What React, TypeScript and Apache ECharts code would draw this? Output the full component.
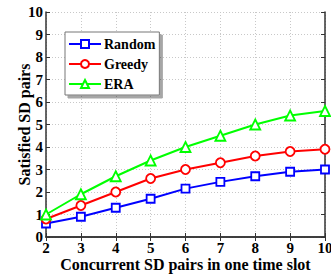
import React, { useEffect, useRef } from "react";
import * as echarts from "echarts";

const xValues = [2, 3, 4, 5, 6, 7, 8, 9, 10];
const randomVals = [0.6, 0.9, 1.3, 1.7, 2.15, 2.45, 2.7, 2.9, 3.0];
const greedyVals = [0.8, 1.4, 2.0, 2.6, 3.0, 3.3, 3.6, 3.8, 3.9];
const eraVals = [1.0, 1.9, 2.7, 3.4, 4.0, 4.5, 5.0, 5.4, 5.6];
const seriesNames = ["Random", "Greedy", "ERA"];

const FONT = "'Liberation Serif', 'Times New Roman', serif";

export default function App() {
  const ref = useRef<HTMLDivElement>(null);
  useEffect(() => {
    if (!ref.current) return;
    const chart = echarts.init(ref.current, undefined, { renderer: "svg" });
    const mk = (name: string, vals: number[], color: string, symbol: string, size: number) => ({
      name,
      type: "line",
      data: xValues.map((x, i) => [x, vals[i]]),
      symbol,
      symbolSize: size,
      showAllSymbol: true,
      lineStyle: { color, width: 2 },
      itemStyle: { color: "#ffffff", borderColor: color, borderWidth: 1.8 },
      color,
    });
    const axisLine = { show: true, lineStyle: { color: "#333", width: 1.5 } };
    chart.setOption({
      animation: false,
      grid: { left: 46, top: 12, width: 279, height: 225, containLabel: false, outerBoundsMode: "none" },
      legend: {
        orient: "vertical",
        left: 65,
        top: 32,
        data: seriesNames,
        itemWidth: 32,
        itemHeight: 10,
        itemGap: 6,
        padding: [5, 4, 4, 3],
        backgroundColor: "#ffffff",
        borderColor: "#777",
        borderWidth: 1,
        shadowColor: "rgba(0,0,0,0.35)",
        shadowBlur: 0,
        shadowOffsetX: 3,
        shadowOffsetY: 3,
        textStyle: { fontFamily: FONT, fontWeight: "bold", fontSize: 14, color: "#000", padding: [0, 0, 0, -2] },
      },
      xAxis: [
        {
          type: "value",
          min: 2,
          max: 10,
          interval: 1,
          name: "Concurrent SD pairs in one time slot",
          nameLocation: "middle",
          nameGap: 19.5,
          nameMoveOverlap: false,
          nameTextStyle: { fontFamily: FONT, fontWeight: "bold", fontSize: 16, color: "#000" },
          axisLine,
          axisTick: { show: true, inside: true, length: 4, lineStyle: { color: "#333" } },
          axisLabel: { fontFamily: FONT, fontWeight: "bold", fontSize: 15, color: "#000", margin: 3 },
          splitLine: { show: true, lineStyle: { color: "#c8c8c8", type: [1, 2], width: 1 } },
        },
        {
          type: "value",
          position: "top",
          min: 2,
          max: 10,
          interval: 1,
          axisLine,
          axisTick: { show: true, inside: true, length: 4, lineStyle: { color: "#333" } },
          axisLabel: { show: false },
          splitLine: { show: false },
        },
      ],
      yAxis: [
        {
          type: "value",
          min: 0,
          max: 10,
          interval: 1,
          name: "Satisfied SD pairs",
          nameLocation: "middle",
          nameGap: 14,
          nameMoveOverlap: false,
          nameTextStyle: { fontFamily: FONT, fontWeight: "bold", fontSize: 16, color: "#000" },
          axisLine,
          axisTick: { show: true, inside: true, length: 4, lineStyle: { color: "#333" } },
          axisLabel: { fontFamily: FONT, fontWeight: "bold", fontSize: 15, color: "#000", margin: 3 },
          splitLine: { show: true, lineStyle: { color: "#c8c8c8", type: [1, 2], width: 1 } },
        },
        {
          type: "value",
          position: "right",
          min: 0,
          max: 10,
          interval: 1,
          axisLine,
          axisTick: { show: true, inside: true, length: 4, lineStyle: { color: "#333" } },
          axisLabel: { show: false },
          splitLine: { show: false },
        },
      ],
      series: [
        mk("Random", randomVals, "#0000ff", "rect", 8),
        mk("Greedy", greedyVals, "#ff0000", "circle", 9),
        mk("ERA", eraVals, "#00ff00", "triangle", 10),
      ],
    });
    return () => chart.dispose();
  }, []);
  return (
    <div
      ref={ref}
      style={{ position: "fixed", left: 0, top: 0, width: 331, height: 278, background: "#fff" }}
    />
  );
}
